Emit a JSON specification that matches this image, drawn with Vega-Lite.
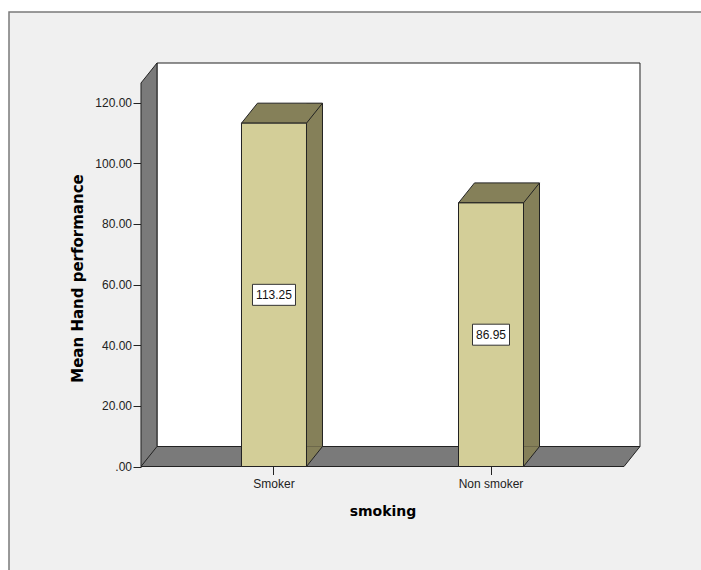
{
  "$schema": "https://vega.github.io/schema/vega-lite/v6.json",
  "width": 692,
  "height": 558,
  "autosize": "none",
  "padding": {"left": 9, "top": 12, "right": 0, "bottom": 0},
  "background": "white",
  "config": {
    "view": {"fill": "#f0f0f0", "stroke": "#7a7a7a", "strokeWidth": 1.5, "strokeDash": [692, 1250, 558]},
    "font": "Liberation Sans"
  },
  "data": {"values": [
    {"smoking": "Smoker", "mean": 113.25},
    {"smoking": "Non smoker", "mean": 86.95}
  ]},
  "transform": [
    {"calculate": "datum.mean / 2", "as": "mid"},
    {"calculate": "length(format(datum.mean, '.2f'))", "as": "chars"}
  ],
  "layer": [
    {
      "data": {"values": [{}]},
      "mark": {"type": "point", "shape": "M-117,-20 L-117,-403.5 L366,-403.5 L366,-20 Z", "size": 4, "filled": true, "fill": "#ffffff", "stroke": "#222222", "strokeWidth": 1, "opacity": 1},
      "encoding": {
        "x": {"datum": "Smoker", "type": "nominal"},
        "y": {"datum": 0, "type": "quantitative"}
      }
    },
    {
      "data": {"values": [{}]},
      "mark": {"type": "point", "shape": "M-133,0 L-133,-383.5 L-117,-403.5 L-117,-20 L366,-20 L350,0 Z M-133,0 L-117,-20", "size": 4, "filled": true, "fill": "#7a7a7a", "stroke": "#222222", "strokeWidth": 1, "opacity": 1},
      "encoding": {
        "x": {"datum": "Smoker", "type": "nominal"},
        "y": {"datum": 0, "type": "quantitative"}
      }
    },
    {
      "mark": {"type": "bar", "width": 16, "xOffset": 40.5, "yOffset": -20, "y2Offset": -20, "fill": "#858059", "strokeWidth": 0},
      "encoding": {
        "x": {"field": "smoking", "type": "nominal"},
        "y": {"field": "mean", "type": "quantitative"},
        "y2": {"datum": 0}
      }
    },
    {
      "mark": {"type": "point", "shape": "M32.5,0 L32.5,-20 L48.5,-20 Z", "size": 4, "filled": true, "fill": "#858059", "strokeWidth": 0, "opacity": 1},
      "encoding": {
        "x": {"field": "smoking", "type": "nominal"},
        "y": {"datum": 0, "type": "quantitative"}
      }
    },
    {
      "mark": {"type": "point", "shape": "M-32.5,0 L-16.5,-20 L48.5,-20 L32.5,0 Z", "size": 4, "filled": true, "fill": "#858059", "stroke": "#222222", "strokeWidth": 1, "opacity": 1},
      "encoding": {
        "x": {"field": "smoking", "type": "nominal"},
        "y": {"field": "mean", "type": "quantitative"}
      }
    },
    {
      "mark": {"type": "bar", "width": 65, "fill": "#d3ce98", "stroke": "#222222", "strokeWidth": 1},
      "encoding": {
        "x": {
          "field": "smoking", "type": "nominal",
          "scale": {"type": "band", "domain": ["Smoker", "Non smoker"], "range": [132, 615], "paddingInner": 0.7, "paddingOuter": 0.4629},
          "axis": {
            "orient": "bottom", "offset": -103.5, "labelAngle": 0, "labelAlign": "center", "labelBaseline": "top", "domain": false, "grid": false,
            "ticks": true, "tickSize": 8, "tickColor": "#222222", "tickWidth": 1,
            "labelFont": "Liberation Sans", "labelFontSize": 12, "labelColor": "#222222", "labelPadding": 4,
            "title": "smoking", "titleFont": "DejaVu Sans", "titleFontSize": 14, "titleFontWeight": "bold",
            "titleColor": "#000000", "titleY": 48.5, "titleBaseline": "alphabetic"
          }
        },
        "y": {
          "field": "mean", "type": "quantitative",
          "scale": {"domain": [0, 126.5], "range": [454.5, 71], "nice": false, "zero": true},
          "axis": {
            "orient": "left", "offset": -132, "values": [0, 20, 40, 60, 80, 100, 120],
            "labelExpr": "datum.value == 0 ? '.00' : format(datum.value, '.2f')",
            "domain": false, "grid": false, "ticks": true, "tickSize": 8, "tickColor": "#222222", "tickWidth": 1,
            "labelFont": "Liberation Sans", "labelFontSize": 12, "labelColor": "#222222", "labelPadding": 1.5,
            "title": "Mean Hand performance", "titleFont": "DejaVu Sans", "titleFontSize": 15, "titleFontWeight": "bold",
            "titleColor": "#000000", "titleAngle": -90, "titleX": -63.5, "titleY": 266, "titleAlign": "center", "titleBaseline": "middle"
          }
        }
      }
    },
    {
      "mark": {"type": "rule", "xOffset": 48.5, "yOffset": -20, "y2Offset": -20, "stroke": "#222222", "strokeWidth": 1},
      "encoding": {
        "x": {"field": "smoking", "type": "nominal"},
        "y": {"field": "mean", "type": "quantitative"},
        "y2": {"datum": 0}
      }
    },
    {
      "mark": {"type": "point", "shape": "M32.5,0 L48.5,-20", "size": 4, "filled": false, "stroke": "#222222", "strokeWidth": 1, "opacity": 1},
      "encoding": {
        "x": {"field": "smoking", "type": "nominal"},
        "y": {"datum": 0, "type": "quantitative"}
      }
    },
    {
      "mark": {"type": "bar", "yOffset": -10.5, "y2Offset": 10.5, "fill": "#ffffff", "stroke": "#333333", "strokeWidth": 1},
      "encoding": {
        "x": {"field": "smoking", "type": "nominal"},
        "y": {"field": "mid", "type": "quantitative"},
        "y2": {"field": "mid"},
        "size": {"field": "chars", "type": "quantitative", "scale": {"domain": [5, 6], "range": [37, 43], "zero": false}, "legend": null}
      }
    },
    {
      "mark": {"type": "text", "font": "Liberation Sans", "fontSize": 12, "color": "#111111", "align": "center", "baseline": "middle"},
      "encoding": {
        "x": {"field": "smoking", "type": "nominal"},
        "y": {"field": "mid", "type": "quantitative"},
        "text": {"field": "mean", "type": "quantitative", "format": ".2f"}
      }
    }
  ]
}
